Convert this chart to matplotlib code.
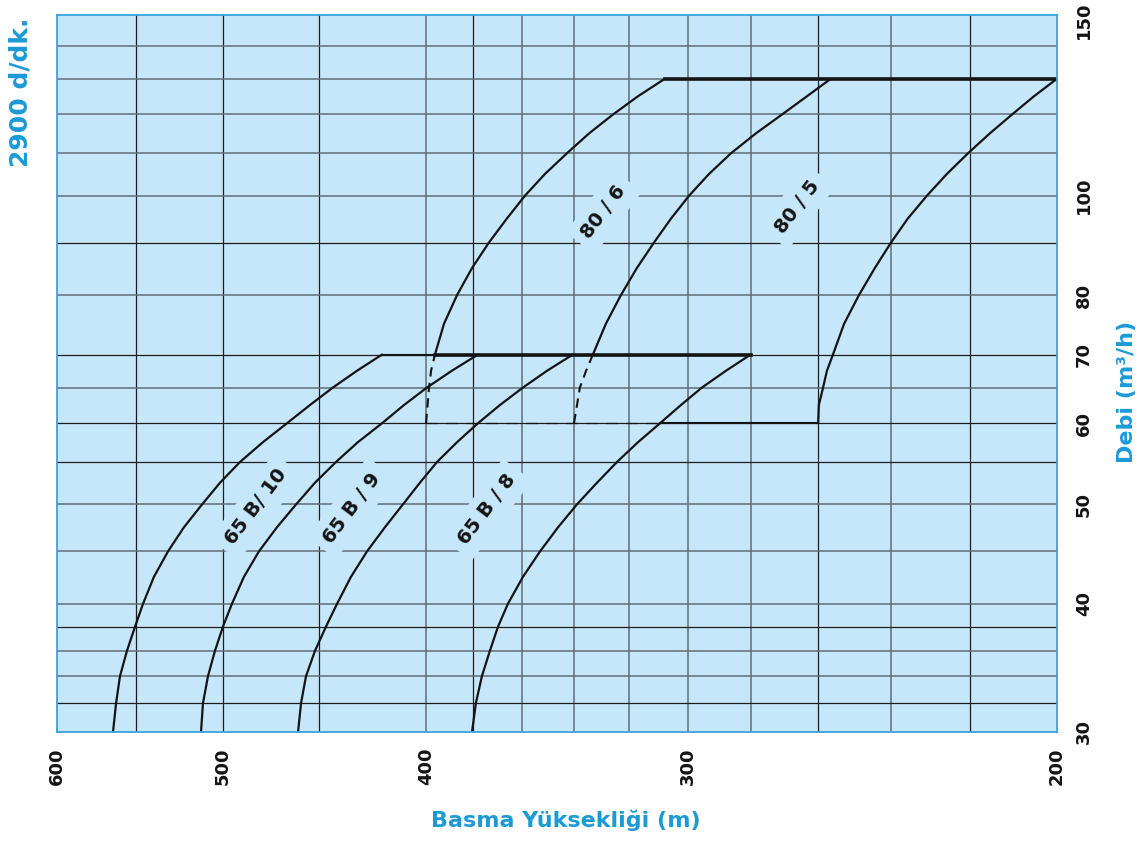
import matplotlib
matplotlib.use('Agg')
import matplotlib.pyplot as plt
import matplotlib.transforms as mtransforms

BLUE = '#1b9ad6'
FACE = '#c6e6f9'
INK = '#141414'
GRID_DARK = '#1e1e1e'
GRID_GRAY = '#5f6d77'

# ── grid and ticks ────────────────────────────────────────────────────────────
H_GRID_DARK = [550, 500, 450, 380, 260, 220]
H_GRID_GRAY = [400, 360, 340, 320, 300, 280, 240]
Q_GRID_DARK = [32, 38, 55, 60, 70, 90]
Q_GRID_GRAY = [34, 36, 40, 45, 50, 65, 80, 100, 110, 120, 130, 140]

H_TICKS = [600, 500, 400, 300, 200]
Q_TICKS = [30, 40, 50, 60, 70, 80, 100, 150]

# ── 65 B curves (Q in m3/h, H in m) ───────────────────────────────────────────
q_65 = [30, 32, 34, 36, 38, 40, 42.5, 45, 47.5, 50, 52.5, 55, 57.5, 60,
        62.5, 65, 67.5, 70]
h_65_a = [564.2, 562.3, 559.9, 555.6, 550.7, 545.9, 539.4, 531.1, 521.9,
          511.6, 501.6, 490.7, 478.5, 466.0, 454.4, 443.1, 431.5, 419.8]
h_65_b = [512.2, 511.1, 508.3, 504.4, 500.0, 495.1, 488.6, 480.6, 471.2,
          461.4, 451.9, 441.6, 431.1, 419.8, 409.8, 399.6, 388.8, 377.8]
h_65_c = [460.4, 458.9, 456.4, 451.9, 446.5, 441.1, 434.4, 426.8, 418.5,
          410.3, 402.7, 395.2, 386.6, 377.8, 368.8, 359.6, 350.2, 340.4]
h_65_d = [380.3, 378.7, 376.2, 372.9, 369.6, 365.6, 359.6, 352.9, 346.0,
          338.9, 331.5, 324.3, 316.9, 309.3, 302.3, 295.4, 287.7, 280.0]

# ── 80 curves ─────────────────────────────────────────────────────────────────
q_80_dash = [60, 65, 67.5, 70]
q_80 = [70, 75, 80, 85, 90, 95, 100, 105, 110, 115, 120, 125, 130]
h_80_a_dash = [400.0, 398.7, 397.8, 396.1]
h_80_a = [396.1, 392.2, 386.6, 380.3, 373.3, 366.0, 358.8, 351.0, 342.6,
          334.4, 325.7, 316.9, 307.7]
h_80_b_dash = [340.0, 337.8, 335.5, 333.0]
h_80_b = [333.0, 328.3, 322.9, 317.3, 311.4, 305.6, 299.6, 293.1, 286.1,
          278.4, 270.5, 263.2, 256.4]
q_80_c = [60, 62.5, 65, 67.5, 70, 75, 80, 85, 90, 95, 100, 105, 110, 115,
          120, 125, 130]
h_80_c = [260.0, 259.8, 258.6, 257.5, 255.8, 252.7, 248.6, 244.3, 240.0,
          235.6, 230.7, 225.7, 220.5, 215.3, 210.1, 205.1, 200.0]

# label text, (H, Q) centre
LABELS = [
    ('65 B/ 10', 482, 49.7),
    ('65 B / 9', 434, 49.6),
    ('65 B / 8', 374, 49.4),
    ('80 / 6', 329, 96.4),
    ('80 / 5', 266, 97.5),
]


def main():
    fig = plt.figure(figsize=(11.47, 8.43), dpi=100)
    ax = fig.add_axes([0.0497, 0.1317, 0.8718, 0.8505])
    ax.set_facecolor(FACE)
    ax.set_xscale('log')
    ax.set_yscale('log')
    ax.set_xlim(600, 200)
    ax.set_ylim(30, 150)

    for h in H_GRID_DARK:
        ax.axvline(h, color=GRID_DARK, lw=0.9, zorder=1)
    for h in H_GRID_GRAY:
        ax.axvline(h, color=GRID_GRAY, lw=1.1, zorder=1)
    for q in Q_GRID_DARK:
        ax.axhline(q, color=GRID_DARK, lw=0.9, zorder=1)
    for q in Q_GRID_GRAY:
        ax.axhline(q, color=GRID_GRAY, lw=1.1, zorder=1)

    curve_kw = dict(color=INK, lw=1.6, zorder=4, solid_joinstyle='round',
                    solid_capstyle='round')
    for h in (h_65_a, h_65_b, h_65_c, h_65_d):
        ax.plot(h, q_65, **curve_kw)
    ax.plot(h_80_a, q_80, **curve_kw)
    ax.plot(h_80_b, q_80, **curve_kw)
    ax.plot(h_80_c, q_80_c, **curve_kw)
    for h in (h_80_a_dash, h_80_b_dash):
        ax.plot(h, q_80_dash, color=INK, lw=1.5, dashes=(4.5, 3), zorder=4)

    # upper limit of the 65 B range (Q=70)
    q70 = q_65[-1]
    ax.plot([h_65_a[-1], h_80_a_dash[-1]], [q70, q70], color=INK, lw=1.5, zorder=4)
    ax.plot([h_80_a_dash[-1], h_65_d[-1]], [q70, q70], color=INK, lw=2.6, zorder=4)
    # upper limit of the 80 range (Q=130)
    q130 = q_80[-1]
    ax.plot([h_80_a[-1], h_80_c[-1]], [q130, q130], color=INK, lw=2.6, zorder=4)
    # lower limit of the 80 range (Q=60)
    q60 = q_80_dash[0]
    h_cross = h_65_d[q_65.index(q60)]
    ax.plot([h_80_a_dash[0], h_cross], [q60, q60], color=INK, lw=0.9,
            dashes=(9, 7), zorder=4)
    ax.plot([h_cross, h_80_c[0]], [q60, q60], color=INK, lw=1.5, zorder=4)

    for text, h, q in LABELS:
        ax.text(h, q, text, rotation=53, ha='center', va='center',
                rotation_mode='anchor', fontsize=14, fontweight='bold',
                color=INK, zorder=3,
                bbox=dict(boxstyle='square,pad=0.45', fc=FACE, ec='none'))

    # ticks
    ax.minorticks_off()
    ax.set_xticks(H_TICKS)
    ax.set_xticklabels([str(v) for v in H_TICKS], rotation=90,
                       fontsize=13, fontweight='bold', color=INK)
    ax.yaxis.tick_right()
    ax.set_yticks(Q_TICKS)
    ax.set_yticklabels([str(v) for v in Q_TICKS], rotation=90, va='center',
                       fontsize=13, fontweight='bold', color=INK)
    ax.tick_params(axis='x', length=0, pad=11)
    ax.tick_params(axis='y', length=0, pad=13)
    ax.tick_params(which='minor', length=0)
    top_lbl = ax.get_yticklabels()[-1]
    top_lbl.set_transform(top_lbl.get_transform() +
                          mtransforms.ScaledTranslation(0, -5 / 100, fig.dpi_scale_trans))

    for sp in ax.spines.values():
        sp.set_color('#3aa2dd')
        sp.set_linewidth(1.3)
        sp.set_zorder(5)

    fig.text(0.0183, 0.891, '2900 d/dk.', rotation=90, ha='center', va='center',
             fontsize=18, fontweight='bold', color=BLUE)
    fig.text(0.9826, 0.535, 'Debi (m³/h)', rotation=90, ha='center', va='center',
             fontsize=16, fontweight='bold', color=BLUE)
    fig.text(0.4935, 0.0273, 'Basma Yüksekliği (m)', ha='center', va='center',
             fontsize=16, fontweight='bold', color=BLUE)

    fig.savefig('out.png', dpi=100)
    plt.close(fig)


if __name__ == '__main__':
    main()
